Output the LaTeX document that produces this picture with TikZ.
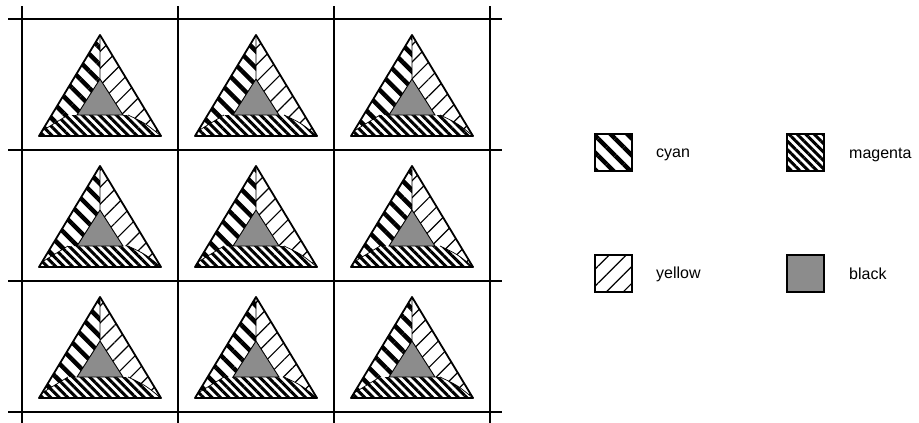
\documentclass[tikz,border=0pt]{standalone}
\usepackage{fontspec}
\setmainfont{Liberation Sans}
\usetikzlibrary{patterns.meta}
\tikzset{
  gridline/.style={line width=1.3pt},
  cyanfill/.style={pattern={Lines[angle=-45,distance=12pt,line width=4.5pt]}},
  magfill/.style={pattern={Lines[angle=-45,distance=6pt,line width=3pt]}},
  yelfill/.style={pattern={Lines[angle=45,distance=12pt,line width=1.2pt]}},
  blkfill/.style={fill=black!45},
  swatch/.style={draw,line width=1.3pt,minimum size=37pt,inner sep=0pt},
  lbl/.style={anchor=west,font=\fontsize{16}{19}\selectfont,inner sep=0pt},
  ternary/.pic={
    \path[cyanfill] (0,0) -- (0,44) -- (-23,80) -- (-32,80) -- (-58,96) -- (-61,101) -- cycle;
    \path[yelfill] (0,0) -- (0,44) -- (23,80) -- (28,80) .. controls (45,88) .. (61,101) -- cycle;
    \path[magfill] (-32,80) -- (28,80) .. controls (45,88) .. (61,101) -- (-61,101) -- (-58,96) -- cycle;
    \path[blkfill] (0,44) -- (-23,80) -- (23,80) -- cycle;
    \draw[line width=0.9pt] (0,0) -- (0,44) -- (-23,80) -- (23,80) -- (0,44);
    \draw[line width=0.7pt] (28,80) .. controls (45,88) .. (61,101);
    \draw[line width=0.7pt] (-32,80) -- (-58,96);
    \draw[line width=1.8pt,line join=round] (0,0) -- (-61,101) -- (61,101) -- cycle;
  }
}
\begin{document}
\begin{tikzpicture}[x=1pt,y=-1pt]
\useasboundingbox (0,0) rectangle (919,423);
\fill[white] (0,0) rectangle (919,423);
% grid
\foreach \gx in {22,178,334,490} \draw[gridline] (\gx,6) -- (\gx,423);
\foreach \gy in {19,150,281,412} \draw[gridline] (8,\gy) -- (502,\gy);
% ternary triangles
\foreach \ty in {35,166,297}
  \foreach \tx in {100,256,412}
    \pic at (\tx,\ty) {ternary};
% legend
\node[swatch,cyanfill] (cyanbox) at (613.5,152.5) {};
\node[swatch,magfill] (magbox) at (805.5,152.5) {};
\node[swatch,yelfill] (yelbox) at (613.5,273.5) {};
\node[swatch,blkfill] (blkbox) at (805.5,273.5) {};
\node[lbl] (cyanlbl) at (656,155) {cyan};
\node[lbl] (maglbl) at (849,155) {magenta};
\node[lbl] (yellbl) at (656,274) {yellow};
\node[lbl] (blklbl) at (849,274) {black};
\end{tikzpicture}
\end{document}
